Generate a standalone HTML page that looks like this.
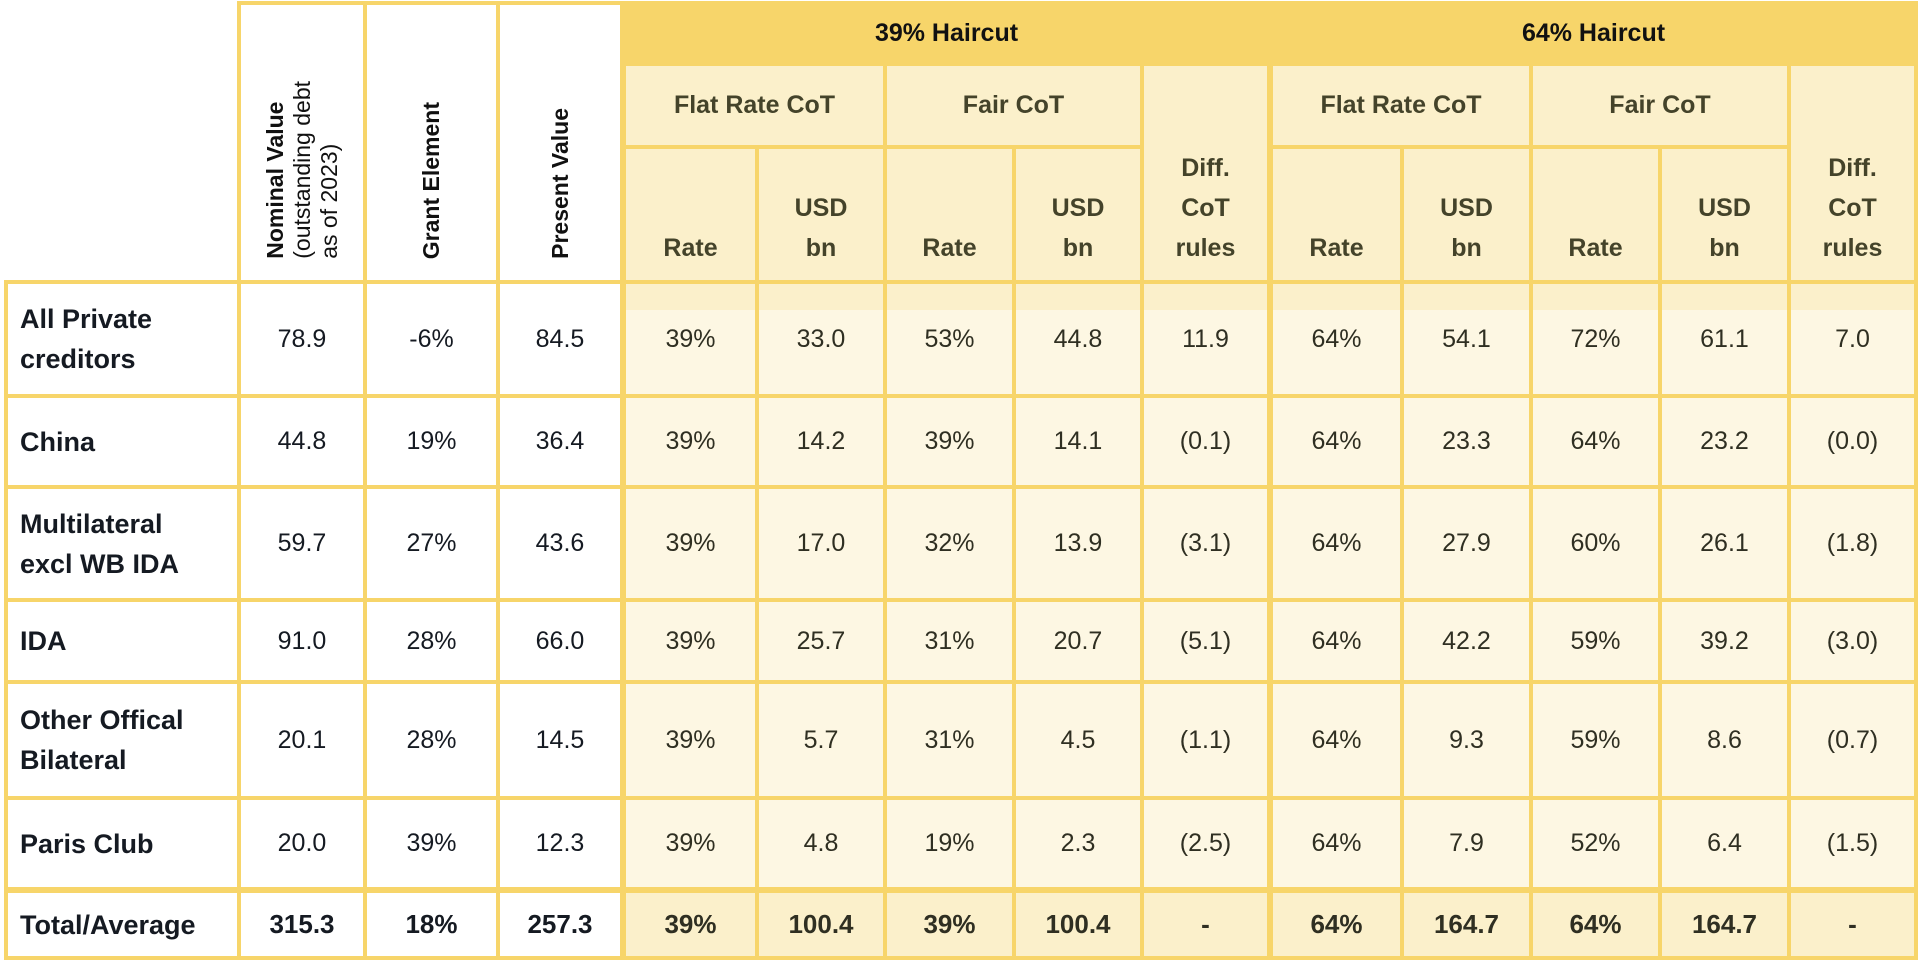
<!DOCTYPE html>
<html><head><meta charset="utf-8"><style>
html,body{margin:0;padding:0;background:#fff;width:1920px;height:960px;overflow:hidden}
table{position:absolute;left:4px;top:1px;border-collapse:collapse;table-layout:fixed;font-family:"Liberation Sans",sans-serif}
td{border:4px solid #F7D56A;text-align:center;vertical-align:middle;padding:0;font-size:25px;color:#151a22}
td.l{text-align:left;padding-left:12px;font-weight:bold;line-height:40px;font-size:27px}
td.c{background:#FDF7E3;color:#2f2f22}
td.h1{background:#F7D56A;font-weight:bold;font-size:25px;color:#111}
td.h2{background:#FBF0CB;font-weight:bold;font-size:25px;color:#44432a}
td.h3{background:#FBF0CB;font-weight:bold;font-size:25px;color:#44432a;vertical-align:bottom;padding-bottom:12px;line-height:40px}
td.rot{background:#fff;vertical-align:bottom;padding-bottom:14px}
.rt{writing-mode:vertical-rl;transform:rotate(180deg);font-size:23px;line-height:27px;text-align:left;color:#111;display:inline-block}
.rt b{font-weight:bold}
td.band{background:linear-gradient(#FBF0CB 0 26px,#FDF7E3 26px)}
tr.tot td{font-weight:bold;font-size:26px}
tr.tot td.l{font-size:27px}
tr.tot td.c{background:#FBF0CB}
td.gl{border-left-width:6px}
</style></head><body>
<table>
<colgroup><col style="width:233px"><col style="width:126px"><col style="width:133px"><col style="width:125px"><col style="width:134px"><col style="width:128px"><col style="width:129px"><col style="width:128px"><col style="width:128px"><col style="width:132px"><col style="width:129px"><col style="width:129px"><col style="width:129px"><col style="width:127px"></colgroup>
<tr style="height:61px">
<td rowspan="3" style="border:none;border-bottom:4px solid #F7D56A;background:#fff"></td>
<td rowspan="3" class="rot"><div class="rt"><b>Nominal Value</b><br>(outstanding debt<br>as of 2023)</div></td>
<td rowspan="3" class="rot"><div class="rt"><b>Grant Element</b></div></td>
<td rowspan="3" class="rot"><div class="rt"><b>Present Value</b></div></td>
<td colspan="5" class="h1 gl">39% Haircut</td>
<td colspan="5" class="h1 gl">64% Haircut</td>
</tr>
<tr style="height:83px">
<td colspan="2" class="h2 gl">Flat Rate CoT</td><td colspan="2" class="h2">Fair CoT</td><td rowspan="2" class="h3">Diff.<br>CoT<br>rules</td>
<td colspan="2" class="h2 gl">Flat Rate CoT</td><td colspan="2" class="h2">Fair CoT</td><td rowspan="2" class="h3">Diff.<br>CoT<br>rules</td>
</tr>
<tr style="height:135px">
<td class="h3 gl">Rate</td><td class="h3">USD<br>bn</td><td class="h3">Rate</td><td class="h3">USD<br>bn</td>
<td class="h3 gl">Rate</td><td class="h3">USD<br>bn</td><td class="h3">Rate</td><td class="h3">USD<br>bn</td>
</tr>
<tr style="height:114px"><td class="l">All Private<br>creditors</td><td>78.9</td><td>-6%</td><td>84.5</td>
<td class="c band gl">39%</td><td class="c band">33.0</td><td class="c band">53%</td><td class="c band">44.8</td><td class="c band">11.9</td>
<td class="c band gl">64%</td><td class="c band">54.1</td><td class="c band">72%</td><td class="c band">61.1</td><td class="c band">7.0</td></tr>
<tr style="height:91px"><td class="l">China</td><td>44.8</td><td>19%</td><td>36.4</td>
<td class="c gl">39%</td><td class="c">14.2</td><td class="c">39%</td><td class="c">14.1</td><td class="c">(0.1)</td>
<td class="c gl">64%</td><td class="c">23.3</td><td class="c">64%</td><td class="c">23.2</td><td class="c">(0.0)</td></tr>
<tr style="height:113px"><td class="l">Multilateral<br>excl WB IDA</td><td>59.7</td><td>27%</td><td>43.6</td>
<td class="c gl">39%</td><td class="c">17.0</td><td class="c">32%</td><td class="c">13.9</td><td class="c">(3.1)</td>
<td class="c gl">64%</td><td class="c">27.9</td><td class="c">60%</td><td class="c">26.1</td><td class="c">(1.8)</td></tr>
<tr style="height:82px"><td class="l">IDA</td><td>91.0</td><td>28%</td><td>66.0</td>
<td class="c gl">39%</td><td class="c">25.7</td><td class="c">31%</td><td class="c">20.7</td><td class="c">(5.1)</td>
<td class="c gl">64%</td><td class="c">42.2</td><td class="c">59%</td><td class="c">39.2</td><td class="c">(3.0)</td></tr>
<tr style="height:116px"><td class="l">Other Offical<br>Bilateral</td><td>20.1</td><td>28%</td><td>14.5</td>
<td class="c gl">39%</td><td class="c">5.7</td><td class="c">31%</td><td class="c">4.5</td><td class="c">(1.1)</td>
<td class="c gl">64%</td><td class="c">9.3</td><td class="c">59%</td><td class="c">8.6</td><td class="c">(0.7)</td></tr>
<tr style="height:92px"><td class="l">Paris Club</td><td>20.0</td><td>39%</td><td>12.3</td>
<td class="c gl">39%</td><td class="c">4.8</td><td class="c">19%</td><td class="c">2.3</td><td class="c">(2.5)</td>
<td class="c gl">64%</td><td class="c">7.9</td><td class="c">52%</td><td class="c">6.4</td><td class="c">(1.5)</td></tr>
<tr class="tot" style="height:68px;border-top:6px solid #F7D56A"><td class="l">Total/Average</td><td>315.3</td><td>18%</td><td>257.3</td>
<td class="c gl">39%</td><td class="c">100.4</td><td class="c">39%</td><td class="c">100.4</td><td class="c">-</td>
<td class="c gl">64%</td><td class="c">164.7</td><td class="c">64%</td><td class="c">164.7</td><td class="c">-</td></tr>
</table>
</body></html>
